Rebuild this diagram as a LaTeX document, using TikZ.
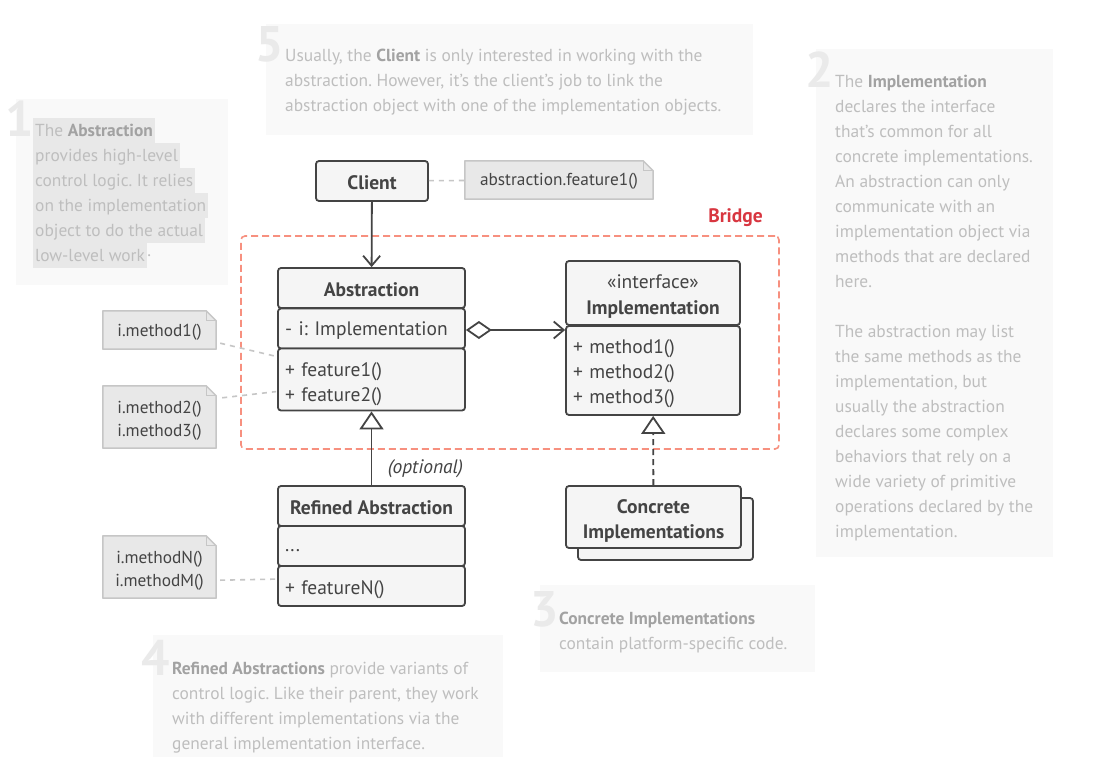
\documentclass[tikz,border=0pt]{standalone}
\usepackage{fontspec}
\setmainfont{PT Sans}
\usetikzlibrary{arrows.meta,calc,backgrounds}

\definecolor{ink}{HTML}{444444}
\definecolor{boxfill}{HTML}{F5F5F5}
\definecolor{notefill}{HTML}{E8E8E8}
\definecolor{noteline}{HTML}{C6C6C6}
\definecolor{panelbg}{HTML}{F9F9F9}
\definecolor{numgrey}{HTML}{EAEAEA}
\definecolor{softtext}{HTML}{BEBEBE}
\definecolor{softbold}{HTML}{A2A2A2}
\definecolor{hilite}{HTML}{E8E8E8}
\definecolor{bridgeline}{HTML}{F7907F}
\definecolor{bridgetext}{HTML}{D83640}

\newcommand\kwd[1]{{\color{softbold}\bfseries #1}}
% invisible strut that sets the height of a first text line
\newcommand\sh[1]{\rule{0pt}{#1pt}}

\tikzset{
  cell/.style={draw=ink, fill=boxfill, line width=1.8pt, rounded corners=3pt,
    inner sep=0pt, text=ink, font=\fontsize{19.5}{25}\selectfont},
  lcell/.style={cell, inner xsep=7pt, align=left},
  title/.style={font=\fontsize{19.5}{25}\selectfont\bfseries},
  note/.style={inner sep=0pt, text=ink, align=center, font=\fontsize{17.3}{23}\selectfont},
  panel/.style={fill=panelbg, inner sep=0pt, anchor=north west},
  soft/.style={text=softtext, inner sep=0pt, align=left, anchor=west,
    font=\fontsize{17.4}{25}\selectfont},
  hl/.style={soft, fill=hilite, inner xsep=2pt, inner ysep=0pt,
    text height=14pt, text depth=2pt, minimum height=25pt},
  digit/.style={text=numgrey, inner sep=0pt, anchor=base west,
    font=\fontsize{50}{50}\selectfont\bfseries},
  conn/.style={draw=ink, line width=1.8pt},
  notelink/.style={draw=noteline, line width=1.6pt, dash pattern=on 5pt off 5pt},
  vtip/.style={-{Straight Barb[length=10pt,width=17pt]}},
  tri/.style={-{Triangle[open,length=18pt,width=24pt]}},
}

\begin{document}
\frenchspacing
\begin{tikzpicture}[x=1pt,y=-1pt]
\begin{scope}[on background layer]
  \fill[white] (0,0) rectangle (1098,757);
\end{scope}
\useasboundingbox (0,0) rectangle (1098,757);

% ---------- explanatory panels ----------
\node[panel, minimum width=212, minimum height=186] (p1) at (16,99) {};
\node[panel, minimum width=487, minimum height=111] (p5) at (266,24) {};
\node[panel, minimum width=237, minimum height=508] (p2) at (816,49) {};
\node[panel, minimum width=275, minimum height=87] (p3) at (540,585) {};
\node[panel, minimum width=350, minimum height=122] (p4) at (153,635) {};

\node[digit] (d1) at (5,137) {1};
\node[digit] (d5) at (255,62) {5};
\node[digit] (d2) at (805,88) {2};
\node[digit] (d3) at (530,626) {3};
\node[digit] (d4) at (141,675) {4};

% panel 1: highlighted lines
\node[hl] (p1a) at (33,130.5) {The \kwd{Abstraction}};
\node[hl] (p1b) at (33,155.5) {provides high-level};
\node[hl] (p1c) at (33,180.5) {control logic. It relies};
\node[hl] (p1d) at (33,205.5) {on the implementation};
\node[hl] (p1e) at (33,230.5) {object to do the actual};
\node[hl] (p1f) at (33,255.5) {low-level work};
\node[soft, inner sep=0pt] (p1g) at (p1f.east) {.};

\node[soft] (p5t) at (285,82) {Usually, the \kwd{Client} is only interested in working with the\\
  abstraction. However, it’s the client’s job to link the\\
  abstraction object with one of the implementation objects.};

\node[soft] (p2t) at (835,308) {The \kwd{Implementation}\\
  declares the interface\\
  that’s common for all\\
  concrete implementations.\\
  An abstraction can only\\
  communicate with an\\
  implementation object via\\
  methods that are declared\\
  here.\\[25pt]
  The abstraction may list\\
  the same methods as the\\
  implementation, but\\
  usually the abstraction\\
  declares some complex\\
  behaviors that rely on a\\
  wide variety of primitive\\
  operations declared by the\\
  implementation.};

\node[soft] (p3t) at (559,633) {\kwd{Concrete Implementations}\\
  contain platform-specific code.};

\node[soft] (p4t) at (172,708) {\kwd{Refined Abstractions} provide variants of\\
  control logic. Like their parent, they work\\
  with different implementations via the\\
  general implementation interface.};

% ---------- bridge frame ----------
\node[draw=bridgeline, line width=1.6pt, dash pattern=on 7pt off 4pt,
  rounded corners=4pt, minimum width=538, minimum height=213, inner sep=0pt]
  (bridge) at (510,342.5) {};
\node[text=bridgetext, font=\fontsize{19.5}{22}\selectfont\bfseries, inner sep=0pt]
  (bridgelbl) at (735.5,218) {Bridge};

% ---------- classes ----------
\node[cell, title, minimum width=112, minimum height=40] (client) at (372,181) {\sh{16.5}Client};

\node[cell, title, minimum width=187, minimum height=40] (abs-head) at (371.5,288) {\sh{16.5}Abstraction};
\node[lcell, text width=173, minimum height=40] (abs-attr) at (371.5,328.5) {\sh{18.5}- i: Implementation};
\node[lcell, text width=173, minimum height=62] (abs-meth) at (371.5,379.5) {\sh{22.5}+ feature1()\\+ feature2()};

\node[cell, minimum width=174, minimum height=64, align=center,
  font=\fontsize{19.5}{26}\selectfont] (impl-head) at (653,293)
  {\sh{20.5}«interface»\\\textbf{Implementation}};
\node[lcell, text width=160, minimum height=89] (impl-meth) at (653,370.5)
  {\sh{21}+ method1()\\+ method2()\\+ method3()};

\node[cell, minimum width=175, minimum height=62] (conc-back) at (665.5,529) {};
\node[cell, title, minimum width=175, minimum height=62, align=center] (conc) at (653.5,517)
  {\sh{22.5}Concrete\\Implementations};

\node[cell, title, minimum width=187, minimum height=40] (ref-head) at (371.5,506) {\sh{16.5}Refined Abstraction};
\node[lcell, text width=173, minimum height=40] (ref-attr) at (371.5,546) {\rule[-4pt]{0pt}{18pt}...};
\node[lcell, text width=173, minimum height=40] (ref-meth) at (371.5,586) {\sh{21}+ featureN()};

\node[text=ink, inner sep=0pt, font=\fontsize{19.5}{22}\selectfont\itshape] (opt) at (425.5,469) {(optional)};

% ---------- notes ----------
\node[note, minimum width=188, minimum height=38] (nf1) at (559,180) {\sh{15}abstraction.feature1()};
\node[note, minimum width=113, minimum height=38] (nm1) at (159.5,330) {\sh{17}i.method1()};
\node[note, minimum width=113, minimum height=62] (nm23) at (159.5,417) {\sh{19}i.method2()\\i.method3()};
\node[note, minimum width=113, minimum height=62] (nmn) at (159.5,567) {\sh{19}i.methodN()\\i.methodM()};

\begin{scope}[on background layer]
  \foreach \n in {nf1,nm1,nm23,nmn} {
    \filldraw[fill=notefill, draw=noteline, line width=1.5pt, line join=round]
      (\n.north west) -- ($(\n.north east)+(-10,0)$) -- ($(\n.north east)+(0,10)$)
      -- (\n.south east) -- (\n.south west) -- cycle;
    \draw[noteline, line width=1.2pt]
      ($(\n.north east)+(-10,0)$) |- ($(\n.north east)+(0,10)$);
  }
\end{scope}

% ---------- connectors ----------
\draw[conn, vtip] (client) -- (abs-head);
\draw[conn, {Diamond[open,length=26pt,width=18pt]}-{Straight Barb[length=10pt,width=17pt]}]
  ($(abs-attr.east)+(0,1.5)$) -- ($(abs-attr.east -| impl-meth.west)+(0,1.5)$);
\draw[conn, tri] (ref-head) -- (abs-meth);
\draw[conn, tri, dash pattern=on 6pt off 4pt] (conc) -- (impl-meth);

\draw[notelink] (client) -- (nf1);
\draw[notelink] ($(nm1.south east)+(4,-6)$) -- ($(abs-meth.north west)+(0,9)$);
\draw[notelink] ($(nm23.north east)+(6,12)$) -- ($(abs-meth.north west)+(-1,44)$);
\draw[notelink] ($(nmn.south east)+(4,-18)$) -- ($(ref-meth.north west)+(-1,14)$);
\end{tikzpicture}
\end{document}
